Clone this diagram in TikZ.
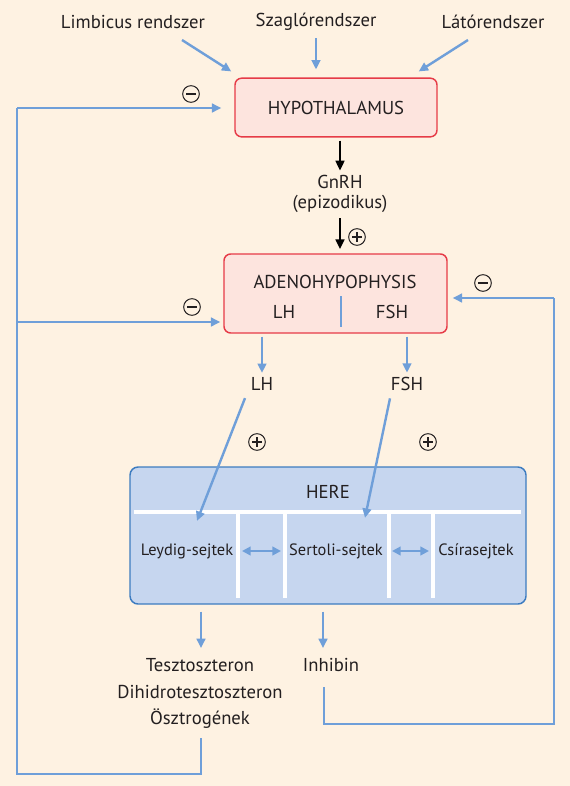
\documentclass[tikz,border=0pt]{standalone}
\usepackage{fontspec}
\setmainfont{PT Sans}
\usetikzlibrary{arrows.meta,calc}
\definecolor{bg}{HTML}{FEF2E2}
\definecolor{lblue}{HTML}{6F9FD9}
\definecolor{dblue}{HTML}{3D7CC0}
\definecolor{hfill}{HTML}{C6D6EF}
\definecolor{rborder}{HTML}{E63B47}
\definecolor{rfill}{HTML}{FDE4DE}
\definecolor{txt}{HTML}{231F20}
\begin{document}
\begin{tikzpicture}[x=0.75pt,y=-0.75pt,
  font=\fontsize{14}{16}\selectfont, text=txt,
  lbl/.style={inner sep=1pt, align=center},
  small/.style={lbl, font=\fontsize{12.3}{14}\selectfont},
  barr/.style={draw=lblue, line width=1.8pt, -{Triangle[length=7pt,width=6.5pt]}},
  bline/.style={draw=lblue, line width=1.8pt},
  karr/.style={draw=black, line width=1.9pt, -{Triangle[length=7.5pt,width=6.5pt]}},
  redbox/.style={draw=rborder, fill=rfill, line width=1.1pt, rounded corners=5pt},
  sign/.style={circle, draw=txt, line width=0.75pt, minimum size=12.5pt, inner sep=0pt},
  minus/.style={sign, path picture={\draw[line width=0.85pt,txt] ([xshift=-3.4pt]path picture bounding box.center) -- ([xshift=3.4pt]path picture bounding box.center);}},
  plus/.style={sign, path picture={\draw[line width=0.85pt,txt] ([xshift=-3.4pt]path picture bounding box.center) -- ([xshift=3.4pt]path picture bounding box.center) ([yshift=-3.4pt]path picture bounding box.center) -- ([yshift=3.4pt]path picture bounding box.center);}},
  wline/.style={draw=white, line width=2.8pt},
  darr/.style={draw=lblue, line width=1.8pt, {Triangle[length=6.5pt,width=6.5pt]}-{Triangle[length=6.5pt,width=6.5pt]}}
]
\fill[bg] (0,0) rectangle (570,786);
\useasboundingbox (0,0) rectangle (570,786);

% top labels
\node[lbl] (lim) at (133,22) {Limbicus rendszer};
\node[lbl] (sz) at (316,22) {Szaglórendszer};
\node[lbl] (lato) at (493,22) {Látórendszer};

% hypothalamus
\node[redbox, minimum width=151.5pt, minimum height=44pt] (hyp) at (336,107.5) {};
\node[lbl] (hyptxt) at (hyp.center) {HYPOTHALAMUS};

\coordinate (limS) at (182,40);
\coordinate (szS) at (316,38);
\coordinate (latS) at (468,40);
\draw[barr] (limS) -- ($(hyp.north west)+(-3,-6)$);
\draw[barr] (szS) -- ($(hyp.north)+(-20,-8)$);
\draw[barr] (latS) -- ($(hyp.north east)+(-19,-6)$);

% GnRH
\node[lbl] (gnrh) at (340,194) {GnRH\\[-1pt](epizodikus)};
\draw[karr] ($(hyp.south)+(4,3)$) -- ($(gnrh.north)+(0,-3)$);

% adenohypophysis
\node[redbox, minimum width=167.25pt, minimum height=59.25pt] (adeno) at (335.5,293.5) {};
\node[lbl] (adtxt) at (335,282) {ADENOHYPOPHYSIS};
\node[lbl] (lhin) at (284,312) {LH};
\node[lbl] (fshin) at (392,312) {FSH};
\coordinate (divT) at (341,296);
\coordinate (divB) at (341,327);
\draw[bline] (divT) -- (divB);
\draw[karr] ($(gnrh.south)+(0,4)$) -- ($(adeno.north)+(4.5,-4)$);
\node[plus] (pg) at (357,237) {};

% LH / FSH
\node[lbl] (lh) at (262,384) {LH};
\node[lbl] (fsh) at (407,384) {FSH};
\draw[barr] (adeno.south -| lh) ++(0,3) -- ($(lh.north)+(0,-3)$);
\draw[barr] (adeno.south -| fsh) ++(0,3) -- ($(fsh.north)+(0,-3)$);
\node[plus] (plh) at (257,442) {};
\node[plus] (pfsh) at (428,442) {};

% HERE box
\node[draw=dblue, fill=hfill, line width=1.1pt, rounded corners=6pt, minimum width=297pt, minimum height=102.75pt] (here) at (328,535.5) {};
\node[lbl] (heretxt) at (328,492) {HERE};
\coordinate (wl) at (134,512);
\coordinate (wr) at (521,512);
\draw[wline] (wl) -- (wr);
\foreach \xx in {238,285,389,433}{\draw[wline] (\xx,512) -- (\xx,598);}
\node[small] (leydig) at (187,551) {Leydig-sejtek};
\node[small] (sertoli) at (336,551) {Sertoli-sejtek};
\node[small] (csira) at (476,551) {Csírasejtek};
\draw[darr] (242,551) -- (281,551);
\draw[darr] (392,551) -- (429,551);
\draw[barr] ($(lh.south)+(-17,6)$) -- ($(leydig.north)+(10,-21)$);
\draw[barr] ($(fsh.south)+(-17,6)$) -- ($(sertoli.north)+(29,-24)$);

% products
\node[lbl] (tesz) at (200,665) {Tesztoszteron};
\node[lbl] (dihi) at (200,692) {Dihidrotesztoszteron};
\node[lbl] (oesz) at (200,719) {Ösztrogének};
\node[lbl] (inh) at (331,665) {Inhibin};
\draw[barr] (here.south -| 201,0) ++(0,7) -- (201,648);
\draw[barr] (here.south -| 323,0) ++(0,7) -- (323,648);

% feedback loops
\coordinate (fbL1) at (201,774);
\coordinate (fbL2) at (17,774);
\coordinate (fbL3) at (17,108);
\coordinate (fbL4) at (17,322);
\draw[bline] (201,738) -- (fbL1) -- (fbL2) -- (fbL3);
\draw[barr] (fbL3) -- ($(hyp.west |- fbL3)+(-13,0)$);
\draw[barr] (fbL4) -- ($(adeno.west |- fbL4)+(-3,0)$);
\node[minus] (m1) at (191,94) {};
\node[minus] (m2) at (192,307) {};

\coordinate (fbR1) at (324,724);
\coordinate (fbR2) at (554,724);
\coordinate (fbR3) at (554,298);
\draw[bline] (324,687) -- (fbR1) -- (fbR2) -- (fbR3);
\draw[barr] (fbR3) -- ($(adeno.east |- fbR3)+(5,0)$);
\node[minus] (m3) at (483,283) {};
\end{tikzpicture}
\end{document}
